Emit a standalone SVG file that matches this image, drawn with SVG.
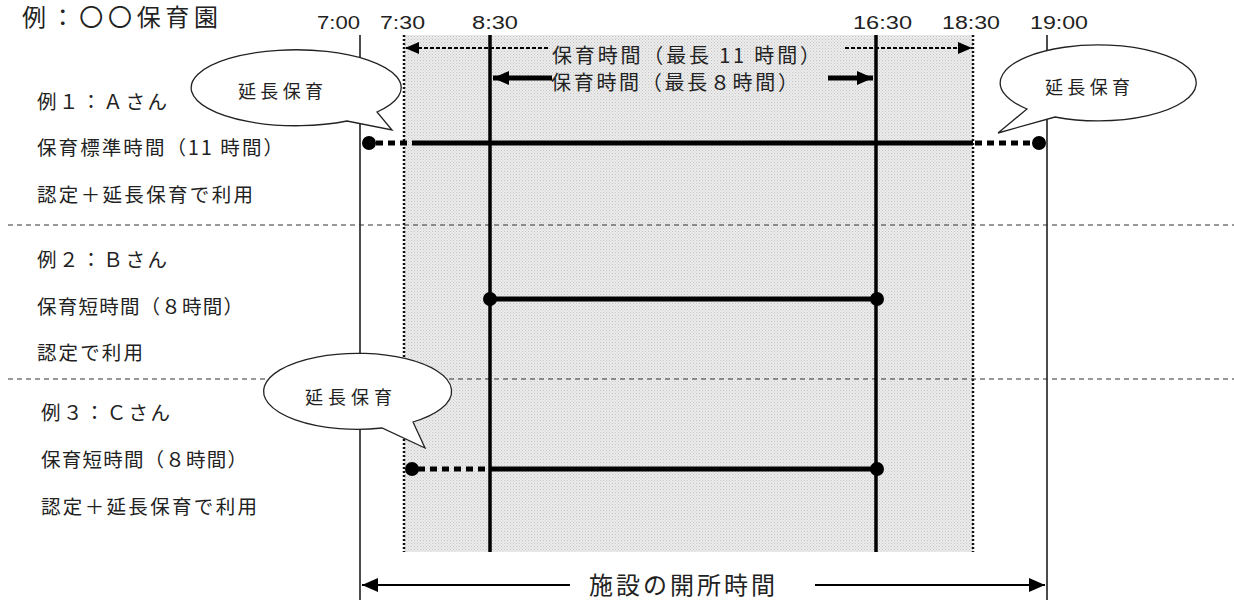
<svg xmlns="http://www.w3.org/2000/svg" width="1234" height="600" viewBox="0 0 1234 600">
<style>
text{font-family:"Noto Sans CJK JP","Liberation Sans",sans-serif;fill:#222}
.lbl{font-size:19.5px}
.tm{font-family:"Liberation Sans","Noto Sans CJK JP",sans-serif;font-size:18px}
.bt{font-size:18px}
.thin{stroke:#111;stroke-width:1.5;fill:none}
.dotv{stroke:#111;stroke-width:2.5;stroke-dasharray:2 2;fill:none}
.thick{stroke:#000;stroke-width:3.5;fill:none}
.sep{stroke:#333;stroke-width:1;stroke-dasharray:5 4;fill:none}
.row{stroke:#000;stroke-width:5;fill:none}
.rowd{stroke:#000;stroke-width:5;stroke-dasharray:7 5;fill:none}
.balloon{fill:#fff;stroke:#222;stroke-width:1.3}
.dot{fill:#000}
</style>
<defs>
<pattern id="stip" width="3" height="3" patternUnits="userSpaceOnUse">
<rect width="3" height="3" fill="#ececec"/>
<rect x="0" y="0" width="1" height="1" fill="#c4c4c4"/>
<rect x="1.5" y="1.5" width="1" height="1" fill="#cfcfcf"/>
</pattern>
<marker id="ahS" markerWidth="14" markerHeight="12" refX="14" refY="6" orient="auto-start-reverse" markerUnits="userSpaceOnUse"><path d="M0,0 L14,6 L0,12 z" fill="#000"/></marker>
<marker id="ahL" markerWidth="16" markerHeight="14" refX="16" refY="7" orient="auto-start-reverse" markerUnits="userSpaceOnUse"><path d="M0,0 L16,7 L0,14 z" fill="#000"/></marker>
</defs>

<rect id="shade" x="404" y="35" width="569" height="517" fill="url(#stip)"/>

<g id="title"><text x="22" y="26" font-size="24" textLength="196" lengthAdjust="spacing">例：〇〇保育園</text></g>

<g id="times">
<text class="tm" x="317" y="28.5" textLength="43" lengthAdjust="spacingAndGlyphs">7:00</text>
<text class="tm" x="380" y="28.5" textLength="45" lengthAdjust="spacingAndGlyphs">7:30</text>
<text class="tm" x="472" y="28.5" textLength="46" lengthAdjust="spacingAndGlyphs">8:30</text>
<text class="tm" x="853" y="28.5" textLength="59" lengthAdjust="spacingAndGlyphs">16:30</text>
<text class="tm" x="942" y="28.5" textLength="58" lengthAdjust="spacingAndGlyphs">18:30</text>
<text class="tm" x="1030" y="28.5" textLength="58" lengthAdjust="spacingAndGlyphs">19:00</text>
</g>

<g id="connectors">
<line class="thin" x1="360" y1="35" x2="360" y2="600"/>
<line class="thin" x1="1047" y1="35" x2="1047" y2="600"/>
<line class="dotv" x1="404" y1="35" x2="404" y2="552"/>
<line class="dotv" x1="973" y1="35" x2="973" y2="552"/>
<line class="sep" x1="8" y1="225" x2="1234" y2="225"/>
<line class="sep" x1="8" y1="379" x2="1234" y2="379"/>
<line class="thick" x1="490" y1="35" x2="490" y2="552"/>
<line class="thick" x1="876" y1="35" x2="876" y2="552"/>
<line x1="548" y1="48" x2="405" y2="48" stroke="#000" stroke-width="2.2" stroke-dasharray="4 2" marker-end="url(#ahS)"/>
<line x1="845" y1="48" x2="972" y2="48" stroke="#000" stroke-width="2.2" stroke-dasharray="4 2" marker-end="url(#ahS)"/>
<line x1="552" y1="78" x2="493" y2="78" stroke="#000" stroke-width="5" marker-end="url(#ahL)"/>
<line x1="828" y1="78" x2="873" y2="78" stroke="#000" stroke-width="5" marker-end="url(#ahL)"/>
<line x1="570" y1="585" x2="362" y2="585" stroke="#000" stroke-width="2" marker-end="url(#ahL)"/>
<line x1="815" y1="585" x2="1045" y2="585" stroke="#000" stroke-width="2" marker-end="url(#ahL)"/>
<line class="rowd" x1="376" y1="143" x2="412" y2="143"/>
<line class="row" x1="412" y1="143" x2="973" y2="143"/>
<line class="rowd" x1="975" y1="143" x2="1032" y2="143"/>
<line class="row" x1="490" y1="299" x2="876" y2="299"/>
<line class="rowd" x1="418" y1="469" x2="490" y2="469"/>
<line class="row" x1="490" y1="469" x2="876" y2="469"/>
</g>

<g id="dots">
<circle class="dot" cx="369" cy="143" r="7"/>
<circle class="dot" cx="1039" cy="143" r="7"/>
<circle class="dot" cx="490" cy="299" r="7"/>
<circle class="dot" cx="877" cy="299" r="7"/>
<circle class="dot" cx="412" cy="469" r="7"/>
<circle class="dot" cx="877" cy="469" r="7"/>
</g>

<g id="range-labels">
<text x="552" y="63" font-size="20" textLength="268" lengthAdjust="spacing">保育時間（最長 11 時間）</text>
<text x="551" y="90" font-size="20" textLength="247" lengthAdjust="spacing">保育時間（最長８時間）</text>
</g>

<g id="caseA">
<text class="lbl" x="37" y="109" textLength="130" lengthAdjust="spacing">例１：Ａさん</text>
<text class="lbl" x="37" y="155" textLength="246" lengthAdjust="spacing">保育標準時間（11 時間）</text>
<text class="lbl" x="37" y="202" textLength="216" lengthAdjust="spacing">認定＋延長保育で利用</text>
</g>
<g id="caseB">
<text class="lbl" x="37" y="267" textLength="130" lengthAdjust="spacing">例２：Ｂさん</text>
<text class="lbl" x="37" y="314" textLength="206" lengthAdjust="spacing">保育短時間（８時間）</text>
<text class="lbl" x="37" y="360" textLength="106" lengthAdjust="spacing">認定で利用</text>
</g>
<g id="caseC">
<text class="lbl" x="41" y="420" textLength="129" lengthAdjust="spacing">例３：Ｃさん</text>
<text class="lbl" x="41" y="467" textLength="206" lengthAdjust="spacing">保育短時間（８時間）</text>
<text class="lbl" x="41" y="514" textLength="216" lengthAdjust="spacing">認定＋延長保育で利用</text>
</g>

<g id="balloon1">
<path class="balloon" d="M377,112 A105,38 0 1 0 347,121 L392,130 Z"/>
<text class="bt" x="238" y="98" textLength="85" lengthAdjust="spacing">延長保育</text>
</g>
<g id="balloon2">
<path class="balloon" d="M1055,117 A98,38 0 1 0 1027,109 L998,133 Z"/>
<text class="bt" x="1045" y="94" textLength="85" lengthAdjust="spacing">延長保育</text>
</g>
<g id="balloon3">
<path class="balloon" d="M413,422 A94,38 0 1 0 382,428 L425,448 Z"/>
<text class="bt" x="305" y="404" textLength="87" lengthAdjust="spacing">延長保育</text>
</g>

<g id="facility"><text x="589" y="594" font-size="24" textLength="186" lengthAdjust="spacing">施設の開所時間</text></g>
</svg>
